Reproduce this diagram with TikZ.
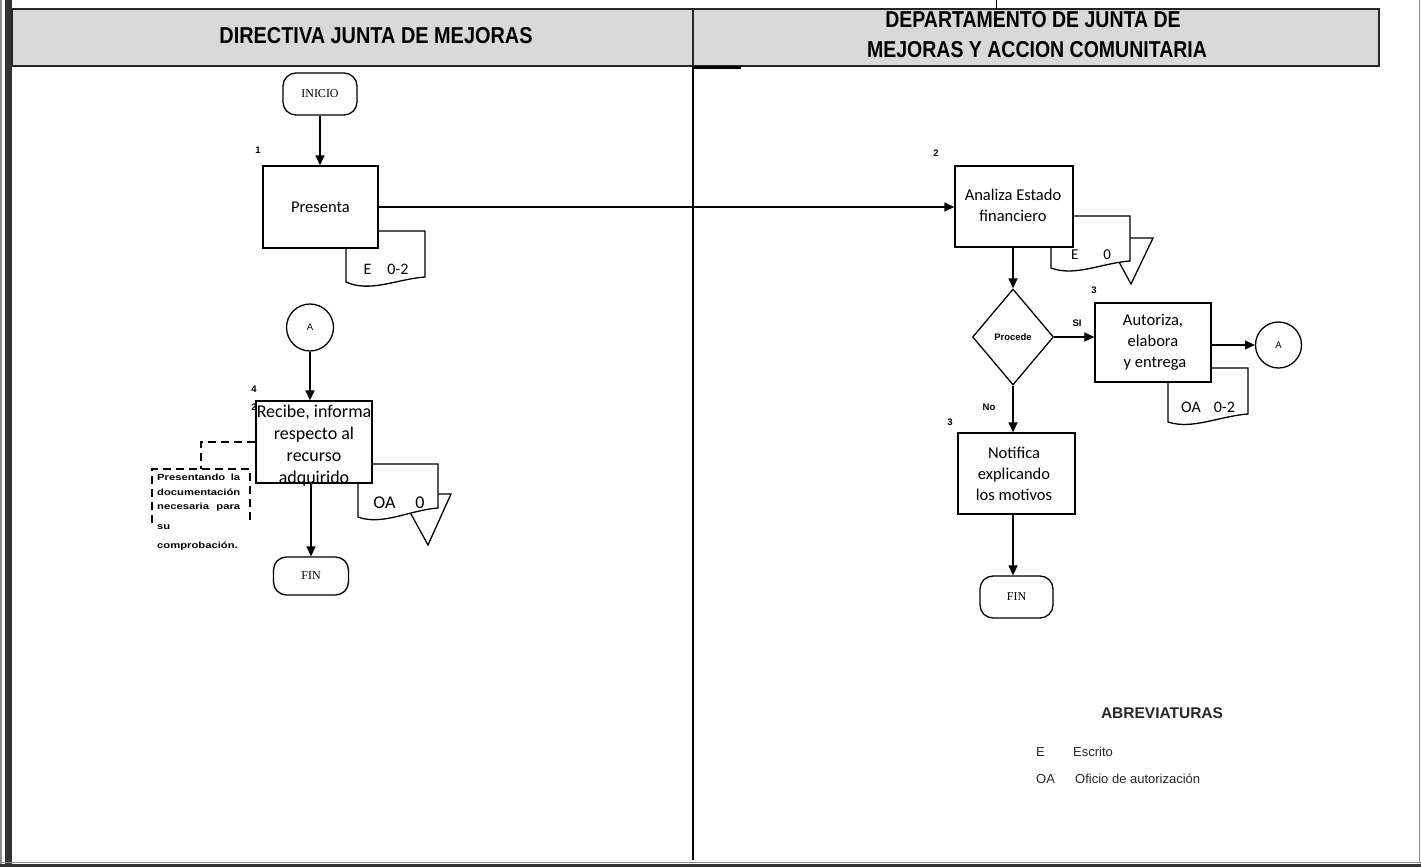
\documentclass[tikz,border=0pt]{standalone}
\usepackage{fontspec}
\setmainfont{Liberation Sans}
\newfontfamily\bodyfont{Carlito}
\newfontfamily\termfont{Liberation Serif}
\usetikzlibrary{arrows.meta,shapes.geometric}

\begin{document}
\begin{tikzpicture}[x=1pt,y=-1pt,
  procbox/.style={draw=black,line width=1.3pt,fill=white,inner sep=0pt},
  boxtext/.style={font=\bodyfont\fontsize{16.5}{21}\selectfont,align=center,inner sep=0pt},
  term/.style={draw=black,line width=1.3pt,rounded corners=13pt,fill=white,inner sep=0pt,
    font=\termfont\fontsize{12}{13}\selectfont},
  conn/.style={draw=black,circle,line width=1.3pt,inner sep=0pt,fill=white,
    font=\fontsize{9.5}{10}\selectfont},
  flow/.style={line width=1.3pt,-{Triangle[length=10pt,width=9pt]}},
  docsym/.style={draw=black,line width=1.3pt,fill=white},
  stepno/.style={font=\bfseries\fontsize{9.5}{10}\selectfont,inner sep=0pt},
  doctext/.style={font=\bodyfont\fontsize{16}{18}\selectfont,inner sep=0pt},
  header/.style={draw=black!85,line width=2pt,fill=black!15,inner sep=0pt},
  headtext/.style={font=\bfseries\fontsize{19.5}{30}\selectfont,inner sep=0pt},
  notetext/.style={font=\bfseries\fontsize{9}{10}\selectfont,inner sep=0pt,anchor=west},
  abbr/.style={font=\fontsize{13}{15}\selectfont,text=black!85,inner sep=0pt,anchor=west},
]
\useasboundingbox (0,0) rectangle (1421,867);

% page frame
\draw[black!45,line width=1.5pt] (1.2,0) -- (1.2,867);
\fill[black!80] (5,0) rectangle (12,867);
\draw[black!45,line width=1.5pt] (1419.5,0) -- (1419.5,862);
\draw[black!45,line width=1pt] (0,862) -- (1421,862);
\fill[black!80] (0,864) rectangle (1421,867);

% lane headers
\node[header,minimum width=681pt,minimum height=57pt] (hdrleft) at (352.5,37.5) {};
\node[header,minimum width=686pt,minimum height=57pt] (hdrright) at (1036,37.5) {};
\node[headtext] (hdrleftt) at (376,36) {\scalebox{1.02}[1.18]{DIRECTIVA JUNTA DE MEJORAS}};
\node[headtext] (hdrright1) at (1033,19.5) {\scalebox{1.0}[1.18]{DEPARTAMENTO DE JUNTA DE}};
\node[headtext] (hdrright2) at (1037,49.5) {\scalebox{1.0}[1.18]{MEJORAS Y ACCION COMUNITARIA}};
\draw[line width=1pt] (996,0) -- (996,9);
\draw[line width=2.5pt] (693,67.5) -- (741,67.5);

% lane divider
\draw[line width=1.2pt] (693,66) -- (693,860);

% ---------- left lane ----------
\node[term,minimum width=74pt,minimum height=42pt] (inicio) at (320,94) {INICIO};

% document E 0-2
\draw[docsym] (346,231) -- (425,231) -- (425,277)
  .. controls (397,279) and (370,293) .. (346,282) -- cycle;
\node[doctext] (doc1t) at (386,269.5) {E\hspace{16pt}0-2};
\node[procbox,minimum width=115pt,minimum height=82pt] (presenta) at (320.5,207) {};
\node[boxtext] (presentat) at (320.5,207) {Presenta};
\node[stepno] (n1) at (258,150) {1};

\node[conn,minimum size=47pt] (aleft) at (310,327.5) {A};

% archive triangle and document OA 0
\draw[line width=1.3pt,fill=white] (400,494) -- (451,494) -- (428,545) -- cycle;
\draw[docsym] (358,464) -- (438,464) -- (438,508)
  .. controls (410,510) and (382,526) .. (358,517) -- cycle;
\node[font=\bodyfont\fontsize{18}{20}\selectfont,inner sep=0pt] (doc2t) at (399,503) {OA\hspace{20pt}0};

\node[procbox,minimum width=116pt,minimum height=82pt] (recibe) at (314,442) {};
\node[font=\bodyfont\fontsize{18}{22}\selectfont,align=center,inner sep=0pt] (recibet) at (314,446)
  {Recibe, informa\\respecto al\\recurso\\adquirido};
\node[stepno] (n4) at (254,389) {4};
\node[stepno] (n4b) at (254,407) {2};

% dashed note
\coordinate (notetop) at (201,469);
\draw[line width=1.2pt,dash pattern=on 8pt off 5pt] (recibe.west) -| (notetop);
\draw[line width=1.2pt,dash pattern=on 8pt off 5pt] (152,523) -- (152,469) -- (250,469) -- (250,523);
\node[notetext] (note1) at (157,477) {\scalebox{1.25}[1]{\makebox[66.4pt][s]{Presentando\hfill la}}};
\node[notetext] (note2) at (157,492) {\scalebox{1.25}[1]{documentación}};
\node[notetext] (note3) at (157,507) {\scalebox{1.25}[1]{\makebox[66.4pt][s]{necesaria\hfill para}}};
\node[notetext] (note4) at (157,527) {\scalebox{1.25}[1]{su}};
\node[notetext] (note5) at (157,546) {\scalebox{1.25}[1]{comprobación.}};

\node[term,minimum width=75pt,minimum height=38pt] (finL) at (311,576) {FIN};

% ---------- right lane ----------
% archive triangle and document E 0
\draw[line width=1.3pt,fill=white] (1106,238) -- (1153,238) -- (1131,284) -- cycle;
\draw[docsym] (1051,216) -- (1130,216) -- (1130,261)
  .. controls (1102,263) and (1075,277) .. (1051,268) -- cycle;
\node[font=\bodyfont\fontsize{15}{18}\selectfont,inner sep=0pt] (doc3t) at (1091,255) {E\hspace{25pt}0};
\node[procbox,minimum width=118pt,minimum height=81pt] (analiza) at (1014,206.5) {};
\node[boxtext] (analizat) at (1013,205.5) {Analiza Estado\\financiero};
\node[stepno] (n2) at (936,153) {2};

\node[diamond,draw=black,line width=1.3pt,fill=white,inner sep=0pt,minimum width=81pt,minimum height=96pt,
  font=\bfseries\fontsize{9.5}{10}\selectfont] (decision) at (1013,337) {Procede};

% document OA 0-2
\draw[docsym] (1168,368) -- (1248,368) -- (1248,414)
  .. controls (1220,416) and (1192,430) .. (1168,422) -- cycle;
\node[doctext] (doc4t) at (1208,407) {OA\hspace{13pt}0-2};
\node[procbox,minimum width=116pt,minimum height=79pt] (autoriza) at (1153,342.5) {};
\node[boxtext] (autorizat) at (1153,342.5) {Autoriza,\\elabora\\\ y entrega};
\node[stepno] (n3) at (1094,290) {3};

\node[conn,minimum size=46pt] (aright) at (1278.5,345) {A};

\node[procbox,minimum width=117pt,minimum height=81pt] (notifica) at (1016.5,473.5) {};
\node[boxtext] (notificat) at (1014,473.5) {Notifica\\explicando\\los motivos};
\node[stepno] (n3b) at (950,422) {3};

\node[term,minimum width=73pt,minimum height=42pt] (finR) at (1016.5,597) {FIN};

\node[stepno] (lsi) at (1077,323) {SI};
\node[stepno] (lno) at (989,407) {No};

% ---------- connectors ----------
\draw[flow] (inicio.south) -- (inicio.south |- presenta.north);
\draw[flow] (presenta.east) -- (presenta.east -| analiza.west);
\draw[flow] (aleft.south) -- (aleft.south |- recibe.north);
\draw[flow] (finL.north |- recibe.south) -- (finL.north);
\draw[flow] (decision.north |- analiza.south) -- (decision.north);
\draw[flow] (decision.east) -- (decision.east -| autoriza.west);
\draw[flow] (autoriza.east |- aright.west) -- (aright.west);
\draw[flow] (decision.south) -- (decision.south |- notifica.north);
\draw[flow] (decision.south |- notifica.south) -- (decision.south |- finR.north);

% ---------- abbreviations ----------
\node[font=\bfseries\fontsize{15.5}{18}\selectfont,text=black!85,inner sep=0pt] (abbrtitle) at (1162,713) {ABREVIATURAS};
\node[abbr] (abE) at (1036,752) {E};
\node[abbr] (abEt) at (1073,752) {Escrito};
\node[abbr] (abOA) at (1036,779) {OA};
\node[abbr] (abOAt) at (1075,779) {Oficio de autorización};
\end{tikzpicture}
\end{document}
